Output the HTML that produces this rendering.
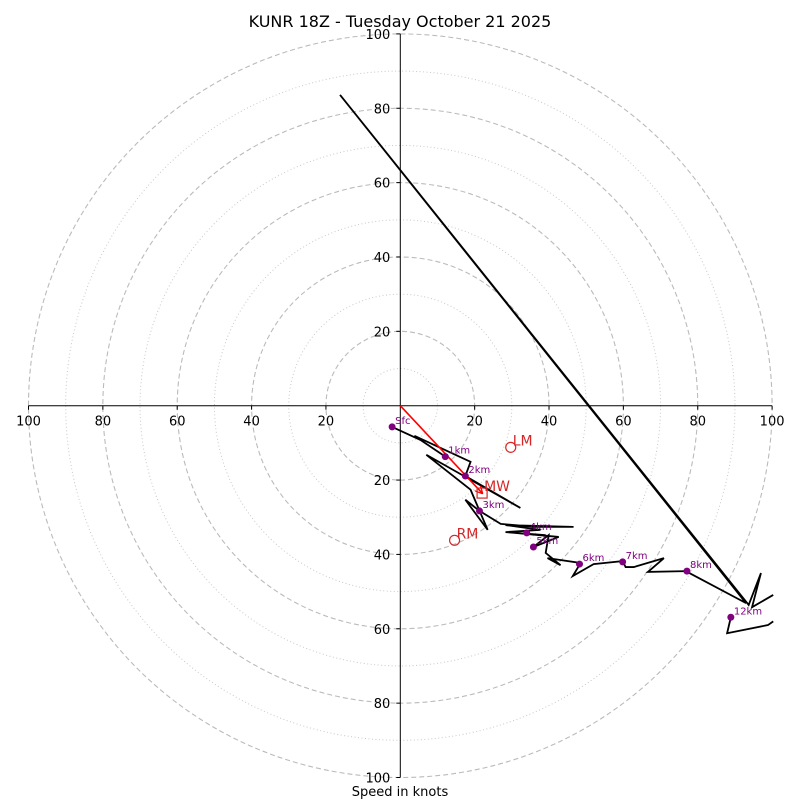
<!DOCTYPE html>
<html><head><meta charset="utf-8"><style>
html,body{margin:0;padding:0;background:#fff;}
svg{display:block;font-family:"DejaVu Sans","Liberation Sans",sans-serif;}
</style></head><body>
<svg id="chart" width="800" height="800" viewBox="0 0 800 800">
<text x="400" y="27" font-size="16" text-anchor="middle">KUNR 18Z - Tuesday October 21 2025</text>
<text x="400" y="796" font-size="13" text-anchor="middle">Speed in knots</text>
<g id="rings"></g><g id="axes"></g><g id="series"></g>
</svg>
<script>
const ringsDashed=[20,40,60,80,100];
const ringsDotted=[10,30,50,70,90];
const tickVals=[20,40,60,80,100];
const hodoU=[-2.2,5.4,12.1,3.8,18.9,17.5,32.3,7.0,18.9,23.5,17.5,21.3,27.0,36.4,46.6,28.3,37.7,28.3,39.1,30.7,42.6,35.8,39.9,39.1,43.1,39.6,48.5,46.4,52.0,59.8,60.6,62.8,70.9,66.6,76.8,93.0,-16.2,93.7,97.0,94.6,100.3];
const hodoV=[-5.7,-9.2,-13.7,-8.1,-15.1,-18.9,-27.5,-13.2,-22.6,-33.4,-25.3,-28.3,-31.8,-32.6,-32.6,-32.1,-33.4,-34.0,-34.8,-34.2,-35.3,-38.0,-34.8,-39.6,-42.9,-41.0,-42.3,-45.8,-42.6,-41.8,-43.4,-43.4,-41.0,-44.7,-44.5,-53.1,83.6,-53.6,-45.0,-54.2,-50.9];
const tailU=[88.9,87.9,98.9,100.3];
const tailV=[-56.9,-61.2,-59.0,-58.0];
const hgtLabels=["Sfc","1km","2km","3km","4km","5km","6km","7km","8km","12km"];
const hgtU=[-2.2,12.1,17.5,21.3,34.0,35.8,48.2,59.8,77.1,88.9];
const hgtV=[-5.7,-13.7,-18.9,-28.3,-34.2,-38.0,-42.6,-42.0,-44.5,-56.9];
const mwU=22.0, mwV=-23.5, lmU=29.7, lmV=-11.2, rmU=14.6, rmV=-36.2;

const NS="http://www.w3.org/2000/svg";
const cx=400.3, cy=405.7, R=371.8, maxV=100;
const sx=u=>cx+u*R/maxV, sy=v=>cy-v*R/maxV, sr=r=>r*R/maxV;
function mk(tag,attrs,parent){const e=document.createElementNS(NS,tag);for(const k in attrs)e.setAttribute(k,attrs[k]);parent.appendChild(e);return e;}
const rings=document.getElementById('rings'),axes=document.getElementById('axes'),ser=document.getElementById('series');
ringsDotted.forEach(r=>{const c=mk('circle',{cx:cx,cy:cy,r:sr(r),fill:'none',stroke:'#c8c8c8','stroke-dasharray':'1,2.5','stroke-width':1},rings);

});
ringsDashed.forEach(r=>{const c=mk('circle',{cx:cx,cy:cy,r:sr(r),fill:'none',stroke:'#bbb','stroke-dasharray':'5,3','stroke-width':1.1},rings);

});
let l=mk('line',{x1:sx(-100),y1:cy,x2:sx(100),y2:cy,stroke:'#000','stroke-width':1},axes);


l=mk('line',{x1:cx,y1:sy(100),x2:cx,y2:sy(-100),stroke:'#000','stroke-width':1},axes);


tickVals.forEach(t=>{[-1,1].forEach(s=>{
 mk('line',{x1:sx(s*t),y1:cy,x2:sx(s*t),y2:cy+4,stroke:'#000'},axes);
 let tx=mk('text',{x:sx(s*t),y:cy+20,'font-size':13,'text-anchor':'middle'},axes);tx.textContent=t;
 
 
 mk('line',{x1:cx-4,y1:sy(s*t),x2:cx,y2:sy(s*t),stroke:'#000'},axes);
 let ty=mk('text',{x:cx-10,y:sy(s*t)+5,'font-size':13,'text-anchor':'end'},axes);ty.textContent=t;
 
 
});});
const defs=mk('defs',{},document.getElementById('chart'));
const mkr=mk('marker',{id:'arr',markerWidth:8,markerHeight:8,refX:7,refY:4,orient:'auto',markerUnits:'userSpaceOnUse'},defs);
mk('path',{d:'M0,0 L8,4 L0,8',fill:'none',stroke:'red','stroke-width':1.3},mkr);
const g=mk('g',{},ser);
let p=mk('polyline',{points:hodoU.map((u,i)=>sx(u)+','+sy(hodoV[i])).join(' '),fill:'none',stroke:'#000','stroke-width':1.8,'stroke-linejoin':'miter'},g);


p=mk('polyline',{points:tailU.map((u,i)=>sx(u)+','+sy(tailV[i])).join(' '),fill:'none',stroke:'#000','stroke-width':1.8},g);


p=mk('line',{x1:cx,y1:cy,x2:sx(mwU),y2:sy(mwV),stroke:'red','stroke-width':1.6,'marker-end':'url(#arr)'},ser);


p=mk('rect',{x:sx(mwU)-5,y:sy(mwV)-5,width:10,height:10,fill:'none',stroke:'#d62728','stroke-width':1.2},ser);


[[lmU,lmV,'LM','left-mover-marker'],[rmU,rmV,'RM','right-mover-marker']].forEach(d=>{
 const c=mk('circle',{cx:sx(d[0]),cy:sy(d[1]),r:5,fill:'none',stroke:'#d62728','stroke-width':1.2},ser);
 
 
 const t=mk('text',{x:sx(d[0])+2,y:sy(d[1])-2,'font-size':14,fill:'#d62728'},ser);t.textContent=d[2];
 
 
});
const mt=mk('text',{x:sx(mwU)+2,y:sy(mwV)-2,'font-size':14,fill:'#d62728'},ser);mt.textContent='MW';


hgtLabels.forEach((lb,i)=>{
 const c=mk('circle',{cx:sx(hgtU[i]),cy:sy(hgtV[i]),r:3.5,fill:'purple'},ser);
 
 
 const t=mk('text',{x:sx(hgtU[i])+3,y:sy(hgtV[i])-3,'font-size':10,fill:'purple'},ser);t.textContent=lb;
 
 
});
</script>
</body></html>
